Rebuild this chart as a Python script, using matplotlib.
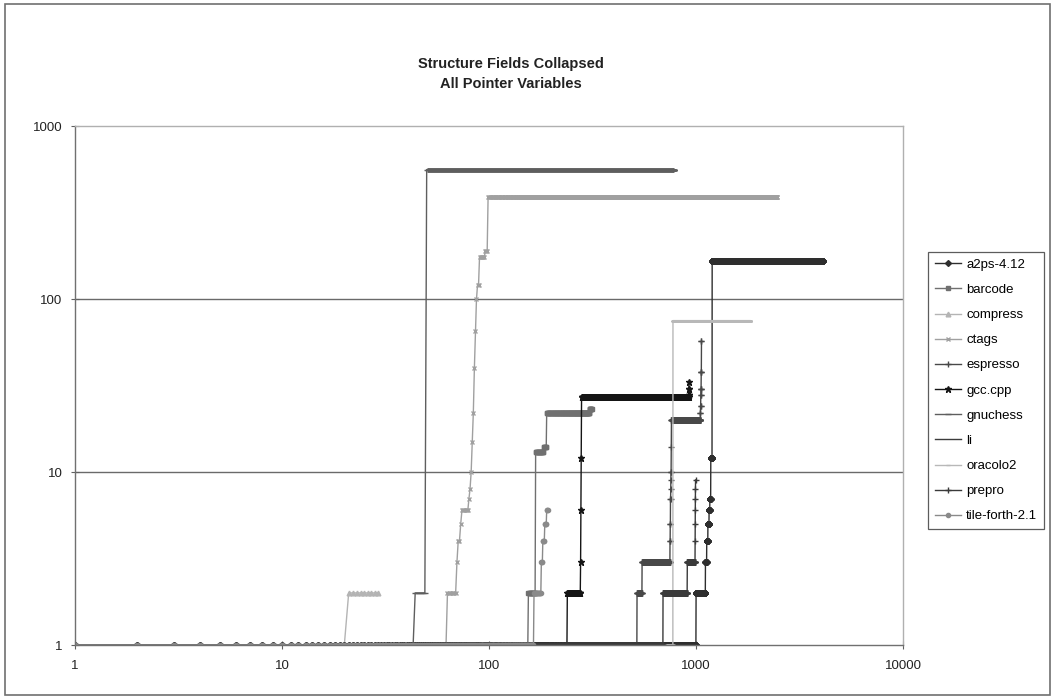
import numpy as np
import matplotlib
matplotlib.use("Agg")
import matplotlib.pyplot as plt
from matplotlib.ticker import FixedLocator, NullLocator, FixedFormatter
from matplotlib.patches import Rectangle

plt.rcParams['font.family'] = ['Liberation Sans', 'DejaVu Sans']

# ---- data: sorted value runs (value, count) per program ----
series_names = ["a2ps-4.12", "barcode", "compress", "ctags", "espresso", "gcc.cpp",
                "gnuchess", "li", "oracolo2", "prepro", "tile-forth-2.1"]

a2ps_values = [1, 2, 3, 4, 5, 6, 7, 12, 165]
a2ps_counts = [999, 110, 16, 15, 15, 10, 12, 18, 2895]

barcode_values = [1, 2, 13, 14, 22, 23]
barcode_counts = [154, 13, 16, 6, 116, 8]

compress_values = [1, 2]
compress_counts = [20, 9]

ctags_values = [1, 2, 3, 4, 5, 6, 7, 8, 10, 15, 22, 40, 65, 100, 120, 175, 190, 390]
ctags_counts = [62, 7, 1, 2, 1, 6, 1, 1, 1, 1, 1, 1, 1, 1, 2, 6, 3, 2352]

espresso_values = [1, 2, 3, 4, 5, 7, 8, 9, 10, 14, 20, 22, 24, 28, 30, 38, 57]
espresso_counts = [518, 30, 200, 2, 2, 2, 1, 1, 2, 1, 290, 2, 2, 2, 3, 3, 2]

gcc_values = [1, 2, 3, 6, 12, 27, 28, 30, 33]
gcc_counts = [238, 38, 1, 1, 1, 641, 3, 2, 1]

gnuchess_values = [1, 2, 560]
gnuchess_counts = [43, 6, 735]

li_values = [1]
li_counts = [600]

oracolo2_values = [1, 75]
oracolo2_counts = [773, 1050]

prepro_values = [1, 2, 3, 4, 5, 6, 7, 8, 9]
prepro_counts = [692, 214, 83, 1, 1, 1, 1, 1, 1]

tile_values = [1, 2, 3, 4, 5, 6]
tile_counts = [164, 14, 3, 4, 4, 3]

x_ticks = [1, 10, 100, 1000, 10000]
x_tick_labels = ["1", "10", "100", "1000", "10000"]
y_ticks = [1, 10, 100, 1000]
y_tick_labels = ["1", "10", "100", "1000"]

runs = [
    (a2ps_values, a2ps_counts),
    (barcode_values, barcode_counts),
    (compress_values, compress_counts),
    (ctags_values, ctags_counts),
    (espresso_values, espresso_counts),
    (gcc_values, gcc_counts),
    (gnuchess_values, gnuchess_counts),
    (li_values, li_counts),
    (oracolo2_values, oracolo2_counts),
    (prepro_values, prepro_counts),
    (tile_values, tile_counts),
]

styles = [
    dict(color="#2e2e2e", marker="D", ms=3.0),
    dict(color="#707070", marker="s", ms=3.2),
    dict(color="#b4b4b4", marker="^", ms=3.4),
    dict(color="#a0a0a0", marker="x", ms=3.0),
    dict(color="#484848", marker="+", ms=4.5),
    dict(color="#151515", marker="*", ms=4.5),
    dict(color="#5e5e5e", marker="_", ms=4.0),
    dict(color="#3c3c3c", marker=None, ms=0),
    dict(color="#b8b8b8", marker="_", ms=3.0),
    dict(color="#3a3a3a", marker="+", ms=4.5),
    dict(color="#8a8a8a", marker="o", ms=3.0),
]

fig = plt.figure(figsize=(10.55, 6.98), dpi=100)
ax = fig.add_axes([75 / 1055, 1 - 645 / 698, (903 - 75) / 1055, (645 - 126) / 698])

for name, (vals, cnts), st in zip(series_names, runs, styles):
    y = np.repeat(np.array(vals, dtype=float), cnts)
    x = np.arange(1, len(y) + 1)
    ax.plot(x, y, color=st["color"], lw=1.0, marker=st["marker"],
            ms=st["ms"], mew=1.0, label=name)
    if name == "gnuchess":
        # dense plateau drawn as a thick band like the reference
        ax.plot(x[y > 100], y[y > 100], color=st["color"], lw=3.5,
                solid_capstyle="butt")

ax.set_xscale("log")
ax.set_yscale("log")
ax.set_xlim(1, 10000)
ax.set_ylim(1, 1000)
ax.xaxis.set_major_locator(FixedLocator(x_ticks))
ax.xaxis.set_major_formatter(FixedFormatter(x_tick_labels))
ax.yaxis.set_major_locator(FixedLocator(y_ticks))
ax.yaxis.set_major_formatter(FixedFormatter(y_tick_labels))
ax.xaxis.set_minor_locator(NullLocator())
ax.yaxis.set_minor_locator(NullLocator())
ax.tick_params(axis="both", direction="inout", length=6, width=0.8,
               color="#606060", labelsize=9.5, labelcolor="#222222")
ax.tick_params(axis="x", pad=8)
ax.tick_params(axis="y", pad=6)

for yv in [10, 100]:
    ax.axhline(yv, color="#6a6a6a", lw=1.0, zorder=0)

for side in ["left", "bottom"]:
    ax.spines[side].set_color("#707070")
    ax.spines[side].set_linewidth(1.0)
for side in ["top", "right"]:
    ax.spines[side].set_color("#b0b0b0")
    ax.spines[side].set_linewidth(1.0)

fig.text(511 / 1055, 1 - 64 / 698, "Structure Fields Collapsed", ha="center",
         va="center", fontsize=10.5, fontweight="bold", color="#222222")
fig.text(511 / 1055, 1 - 84 / 698, "All Pointer Variables", ha="center",
         va="center", fontsize=10.5, fontweight="bold", color="#222222")

leg = fig.legend(loc="upper left", bbox_to_anchor=(928 / 1055, 1 - 252 / 698),
                 fontsize=9.5, frameon=True, fancybox=False, edgecolor="#333333",
                 handlelength=2.0, handletextpad=0.4, labelspacing=0.98,
                 borderpad=0.5, borderaxespad=0)
leg.get_frame().set_linewidth(0.9)

fig.patches.append(Rectangle((5 / 1055, 3 / 698), 1045 / 1055, 691 / 698,
                             transform=fig.transFigure, fill=False,
                             edgecolor="#707070", lw=1.2))

fig.savefig("out.png", dpi=100)
